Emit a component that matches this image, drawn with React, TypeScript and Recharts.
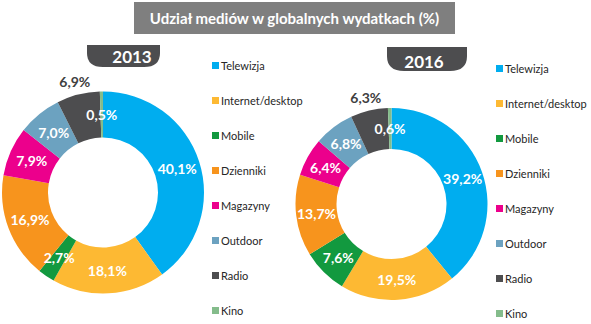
import { Legend, Pie, PieChart } from 'recharts'

const TITLE = 'Udział mediów w globalnych wydatkach (%)'
const YEARS = ['2013', '2016']
const CATEGORIES = ['Telewizja', 'Internet/desktop', 'Mobile', 'Dzienniki', 'Magazyny', 'Outdoor', 'Radio', 'Kino']
const COLORS = ['#00ADEF', '#FDB933', '#12993F', '#F7941D', '#EC008C', '#6CA2C0', '#4D4D4F', '#84BC8B']
const VALUES_2013 = [40.1, 18.1, 2.7, 16.9, 7.9, 7.0, 6.9, 0.5]
const VALUES_2016 = [39.2, 19.5, 7.6, 13.7, 6.4, 6.8, 6.3, 0.6]

const FONT = 'Lato, "Open Sans", sans-serif'
const RAD = Math.PI / 180

const pct = (v: number) => `${v.toFixed(1).replace('.', ',')}%`

function renderLabel(props: any) {
  const { cx, cy, midAngle, innerRadius, outerRadius, value, name } = props
  const outside = name === 'Radio'
  const r = outside ? outerRadius + 14 : (innerRadius + outerRadius) / 2
  const x = cx + r * Math.cos(-midAngle * RAD)
  const y = cy + r * Math.sin(-midAngle * RAD)
  return (
    <text
      x={x}
      y={y}
      textAnchor="middle"
      dominantBaseline="central"
      fill={outside ? '#404040' : '#ffffff'}
      fontFamily={FONT}
      fontWeight={700}
      fontSize={14}
    >
      {pct(value)}
    </text>
  )
}

function LegendList() {
  return (
    <div style={{ fontFamily: FONT, fontSize: 11, color: '#262626' }}>
      {CATEGORIES.map((c, i) => (
        <div key={c} style={{ display: 'flex', alignItems: 'center', height: 34.9, whiteSpace: 'nowrap' }}>
          <span style={{ width: 7, height: 7, background: COLORS[i], marginRight: 2, flexShrink: 0 }} />
          <span>{c}</span>
        </div>
      ))}
    </div>
  )
}

interface DonutProps {
  values: number[]
  left: number
  width: number
  cx: number
  cy: number
  inner: number
  outer: number
  legendLeft: number
  legendTop: number
}

function Donut({ values, left, width, cx, cy, inner, outer, legendLeft, legendTop }: DonutProps) {
  const data = CATEGORIES.map((name, i) => ({ name, value: values[i], fill: COLORS[i] }))
  return (
    <div style={{ position: 'absolute', left, top: 0 }}>
      <PieChart width={width} height={324} margin={{ top: 0, right: 0, bottom: 0, left: 0 }}>
        <Pie
          data={data}
          dataKey="value"
          nameKey="name"
          cx={cx}
          cy={cy}
          innerRadius={inner}
          outerRadius={outer}
          startAngle={90}
          endAngle={-270}
          stroke="none"
          label={renderLabel}
          labelLine={false}
          isAnimationActive={false}
        />
        <Legend
          content={() => <LegendList />}
          wrapperStyle={{ left: legendLeft, top: legendTop, width: 95 }}
        />
      </PieChart>
    </div>
  )
}

function tabPath(x1: number, x2: number, y1: number, y2: number, rx: number, ry: number) {
  return `M${x1},${y1} H${x2} V${y2 - ry} Q${x2},${y2} ${x2 - rx},${y2} H${x1 + rx} Q${x1},${y2} ${x1},${y2 - ry} Z`
}

export default function App() {
  return (
    <div style={{ position: 'absolute', left: 0, top: 0, width: 591, height: 324, background: '#fff', overflow: 'hidden' }}>
      <Donut values={VALUES_2013} left={0} width={295} cx={103} cy={192.5} inner={55} outer={101} legendLeft={212} legendTop={48.5} />
      <Donut values={VALUES_2016} left={295} width={296} cx={96.5} cy={204} inner={55} outer={96} legendLeft={201} legendTop={51.5} />
      <svg width={591} height={80} style={{ position: 'absolute', left: 0, top: 0 }}>
        <rect x={134} y={2} width={321} height={32} fill="#7F7F7F" />
        <text x={294.5} y={18} textAnchor="middle" dominantBaseline="central" fill="#fff" fontFamily={FONT} fontWeight={700} fontSize={15}>
          {TITLE}
        </text>
        <path d={tabPath(87, 160, 45, 67, 16, 14)} fill="#4D4D4F" />
        <text x={132} y={56} textAnchor="middle" dominantBaseline="central" fill="#fff" fontFamily={FONT} fontWeight={700} fontSize={17}>
          {YEARS[0]}
        </text>
        <path d={tabPath(387, 467, 47, 71, 17, 15)} fill="#4D4D4F" />
        <text x={424} y={61} textAnchor="middle" dominantBaseline="central" fill="#fff" fontFamily={FONT} fontWeight={700} fontSize={17}>
          {YEARS[1]}
        </text>
      </svg>
    </div>
  )
}
